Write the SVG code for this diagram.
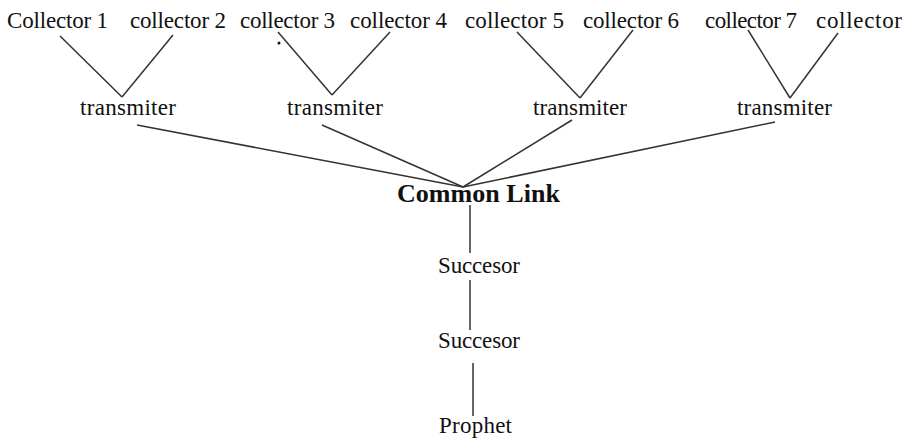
<svg xmlns="http://www.w3.org/2000/svg" width="907" height="440" viewBox="0 0 907 440">
<style>
  text { font-family: "Liberation Serif", "Times New Roman", serif; font-size: 23px; fill: #111; }
  .bold { font-weight: bold; font-size: 26px; }
  line { stroke: #333; stroke-width: 1.5; }
</style>
<rect width="907" height="440" fill="#ffffff"/>
<g id="connectors">
  <line x1="60" y1="36" x2="122" y2="97"/>
  <line x1="173" y1="35" x2="122" y2="97"/>
  <line x1="278" y1="32" x2="332" y2="95"/>
  <line x1="390" y1="32" x2="332" y2="95"/>
  <line x1="517" y1="32" x2="580" y2="98"/>
  <line x1="633" y1="30" x2="580" y2="98"/>
  <line x1="748" y1="30" x2="790" y2="98"/>
  <line x1="838" y1="33" x2="790" y2="98"/>
  <line x1="137" y1="125" x2="463" y2="187"/>
  <line x1="322" y1="125" x2="463" y2="187"/>
  <line x1="572" y1="120" x2="463" y2="187"/>
  <line x1="775" y1="122" x2="463" y2="187"/>
  <line x1="470" y1="205" x2="470" y2="253"/>
  <line x1="470" y1="280" x2="470" y2="330"/>
  <line x1="473" y1="363" x2="473" y2="416"/>
</g>
<g id="collector1"><text x="7" y="28" textLength="101" lengthAdjust="spacing">Collector 1</text></g>
<g id="collector2"><text x="130" y="28" textLength="96" lengthAdjust="spacing">collector 2</text></g>
<g id="collector3"><text x="240" y="28" textLength="95" lengthAdjust="spacing">collector 3</text></g>
<g id="collector4"><text x="350" y="28" textLength="97" lengthAdjust="spacing">collector 4</text></g>
<g id="collector5"><text x="465" y="28" textLength="99" lengthAdjust="spacing">collector 5</text></g>
<g id="collector6"><text x="583" y="28" textLength="96" lengthAdjust="spacing">collector 6</text></g>
<g id="collector7"><text x="705" y="28" textLength="92" lengthAdjust="spacing">collector 7</text></g>
<g id="collector8"><text x="816" y="28" textLength="86" lengthAdjust="spacing">collector</text></g>
<circle cx="279" cy="43" r="1.5" fill="#111"/>
<g id="transmiter1"><text x="80" y="115" textLength="96" lengthAdjust="spacing">transmiter</text></g>
<g id="transmiter2"><text x="287" y="115" textLength="96" lengthAdjust="spacing">transmiter</text></g>
<g id="transmiter3"><text x="533" y="115" textLength="94" lengthAdjust="spacing">transmiter</text></g>
<g id="transmiter4"><text x="737" y="115" textLength="95" lengthAdjust="spacing">transmiter</text></g>
<g id="common-link"><text class="bold" x="397" y="202" textLength="163" lengthAdjust="spacing">Common Link</text></g>
<g id="succesor1"><text x="438" y="273" textLength="82" lengthAdjust="spacing">Succesor</text></g>
<g id="succesor2"><text x="438" y="348" textLength="82" lengthAdjust="spacing">Succesor</text></g>
<g id="prophet"><text x="439" y="433" textLength="73" lengthAdjust="spacing">Prophet</text></g>
</svg>
